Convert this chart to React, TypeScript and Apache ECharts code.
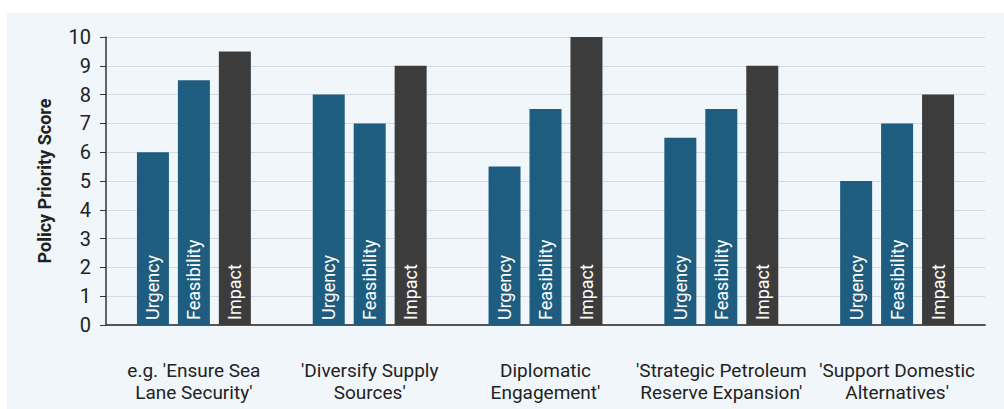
import React, { useEffect, useRef } from "react";
import * as echarts from "echarts";

const categories = [
  "e.g. 'Ensure Sea\nLane Security'",
  "'Diversify Supply\nSources'",
  "Diplomatic\nEngagement'",
  "'Strategic Petroleum\nReserve Expansion'",
  "'Support Domestic\nAlternatives'",
];
const urgency = [6, 8, 5.5, 6.5, 5];
const feasibility = [8.5, 7, 7.5, 7.5, 7];
const impact = [9.5, 9, 10, 9, 8];
const yTicks = [0, 1, 2, 3, 4, 5, 6, 7, 8, 9, 10];

const FONT = "Roboto, 'Liberation Sans', sans-serif";

export default function App() {
  const ref = useRef<HTMLDivElement>(null);
  useEffect(() => {
    if (!ref.current) return;
    const chart = echarts.init(ref.current, undefined, { renderer: "svg" });
    const barLabel = (name: string) => ({
      show: true,
      position: "insideBottom",
      rotate: 90,
      align: "left",
      verticalAlign: "middle",
      distance: 5,
      formatter: name,
      color: "#ffffff",
      fontSize: 18,
      fontFamily: FONT,
    });
    chart.setOption({
      animation: false,
      backgroundColor: "#ffffff",
      graphic: [
        {
          type: "rect",
          z: -10,
          shape: { x: 7, y: 13, width: 1004, height: 409 },
          style: { fill: "#f1f6fa" },
          silent: true,
        },
      ],
      grid: { left: 106, right: 19, top: 37, bottom: 84 },
      xAxis: {
        type: "category",
        data: categories,
        axisLine: { show: true, lineStyle: { color: "#555555", width: 2 } },
        axisTick: { show: false },
        axisLabel: {
          fontSize: 19,
          lineHeight: 22,
          color: "#222222",
          fontFamily: FONT,
          margin: 34,
          interval: 0,
        },
      },
      yAxis: {
        type: "value",
        min: 0,
        max: 10,
        interval: 1,
        name: "Policy Priority Score",
        nameLocation: "middle",
        nameGap: 53,
        nameTextStyle: { fontSize: 18, fontWeight: "bold", color: "#222222", fontFamily: FONT },
        axisLine: { show: true, lineStyle: { color: "#333333", width: 1.5 } },
        axisTick: { show: true, length: 6, lineStyle: { color: "#333333" } },
        axisLabel: {
          fontSize: 20,
          color: "#222222",
          fontFamily: FONT,
          margin: 15,
          formatter: (v: number) => (yTicks.includes(v) ? String(v) : ""),
        },
        splitLine: { show: true, lineStyle: { color: "#d6dadf", width: 1 } },
      },
      series: [
        {
          name: "Urgency",
          type: "bar",
          data: urgency,
          itemStyle: { color: "#1e5d80" },
          barWidth: 32,
          barGap: "28%",
          label: barLabel("Urgency"),
        },
        {
          name: "Feasibility",
          type: "bar",
          data: feasibility,
          itemStyle: { color: "#1e5d80" },
          barWidth: 32,
          barGap: "28%",
          label: barLabel("Feasibility"),
        },
        {
          name: "Impact",
          type: "bar",
          data: impact,
          itemStyle: { color: "#3c3c3c" },
          barWidth: 32,
          barGap: "28%",
          label: barLabel("Impact"),
        },
      ],
    });
    return () => chart.dispose();
  }, []);
  return (
    <div
      ref={ref}
      style={{ position: "absolute", left: 0, top: 0, width: 1004, height: 409 }}
    />
  );
}
